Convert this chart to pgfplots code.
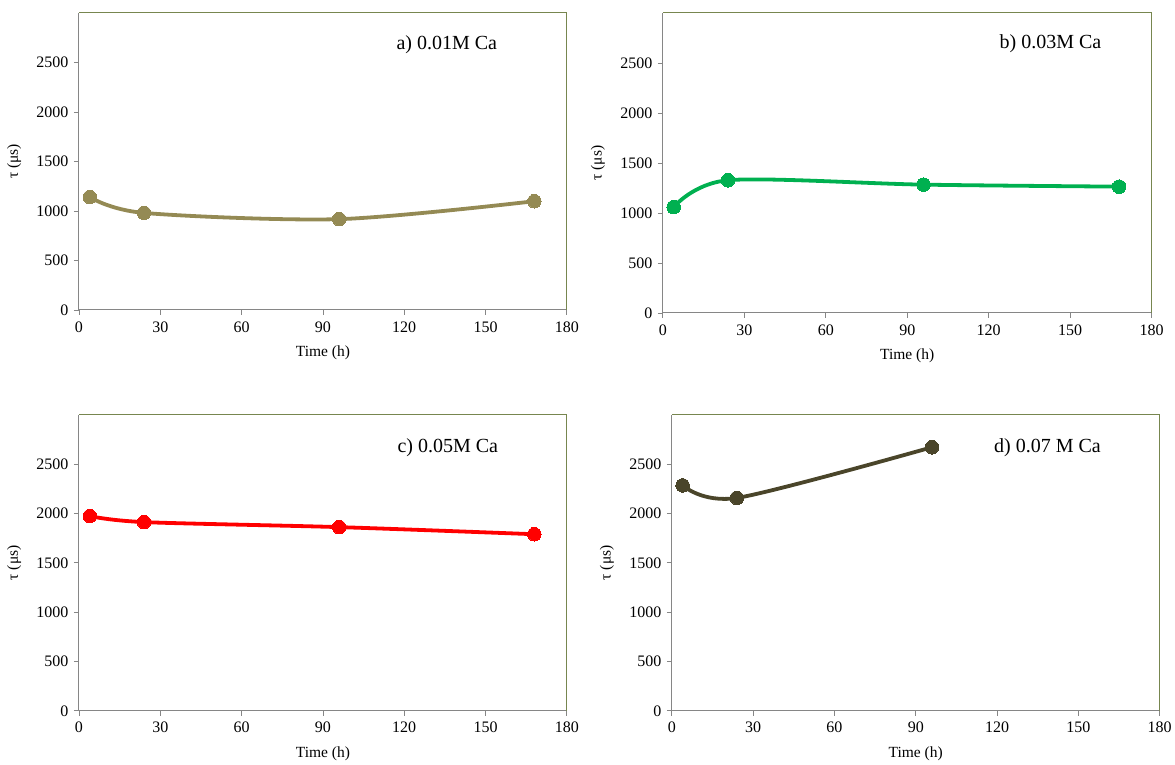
\documentclass[border=0pt]{standalone}
\usepackage{fontspec}
\setmainfont{Liberation Serif}
\usepackage{pgfplots}
\pgfplotsset{compat=1.18}

\definecolor{serA}{HTML}{948A54}
\definecolor{serB}{HTML}{00B050}
\definecolor{serC}{HTML}{FF0000}
\definecolor{serD}{HTML}{4A452A}
\definecolor{frameGray}{HTML}{868686}
\definecolor{frameOlive}{HTML}{77864F}

\pgfplotsset{
  panel/.style={
    scale only axis,
    anchor=south west,
    xmin=0, xmax=180, ymin=0, ymax=3000,
    xtick={0,30,...,180},
    ytick={0,500,...,2500},
    axis x line*=bottom,
    axis y line*=left,
    axis line style={frameGray, line width=1pt},
    tick align=outside,
    major tick length=5pt,
    tick style={frameGray, line width=0.8pt},
    ticklabel style={font=\fontsize{16}{16}\selectfont, text=black},
    xticklabel style={yshift=-3pt},
    yticklabel style={xshift=-2pt},
    /pgf/number format/assume math mode=true,
    /pgf/number format/1000 sep={},
    xlabel={Time (h)},
    ylabel={τ (μs)},
    label style={font=\fontsize{15.5}{15.5}\selectfont},
    xlabel style={at={(axis description cs:0.5,0)}, anchor=north, yshift=-36pt, inner sep=0pt},
    ylabel style={at={(axis description cs:-0.133,0.5)}, anchor=center, rotate=0, inner sep=0pt},
    clip=false,
    after end axis/.code={
      \draw[frameOlive, line width=1pt] (rel axis cs:0,1) -- (rel axis cs:1,1) -- (rel axis cs:1,0);
    },
  },
  curve/.style={smooth, tension=0.5, line width=3.8pt, mark=*, mark size=6.8pt, mark options={line width=0pt}},
}

\begin{document}
\begin{tikzpicture}[x=1pt,y=1pt]
\path (0,0) rectangle (1175,765);

% a) 0.01 M Ca
\begin{axis}[panel, at={(79pt,455pt)}, width=488pt, height=297pt]
  \addplot[curve, color=serA] coordinates {(4,1140) (24,980) (96,917) (168,1098)};
  \node[font=\fontsize{20}{20}\selectfont, anchor=center] at (rel axis cs:0.754,0.892) {a) 0.01M Ca};
\end{axis}

% b) 0.03 M Ca
\begin{axis}[panel, at={(663pt,452pt)}, width=489pt, height=300pt]
  \addplot[curve, color=serB] coordinates {(4,1058) (24,1327) (96,1283) (168,1263)};
  \node[font=\fontsize{20}{20}\selectfont, anchor=center] at (rel axis cs:0.793,0.897) {b) 0.03M Ca};
\end{axis}

% c) 0.05 M Ca
\begin{axis}[panel, at={(79pt,54pt)}, width=488pt, height=296pt]
  \addplot[curve, color=serC] coordinates {(4,1974) (24,1913) (96,1862) (168,1790)};
  \node[font=\fontsize{20}{20}\selectfont, anchor=center] at (rel axis cs:0.756,0.889) {c) 0.05M Ca};
\end{axis}

% d) 0.07 M Ca
\begin{axis}[panel, at={(672pt,54pt)}, width=488pt, height=296pt]
  \addplot[curve, color=serD] coordinates {(4,2285) (24,2158) (96,2672)};
  \node[font=\fontsize{20}{20}\selectfont, anchor=center] at (rel axis cs:0.770,0.889) {d) 0.07 M Ca};
\end{axis}
\end{tikzpicture}
\end{document}
